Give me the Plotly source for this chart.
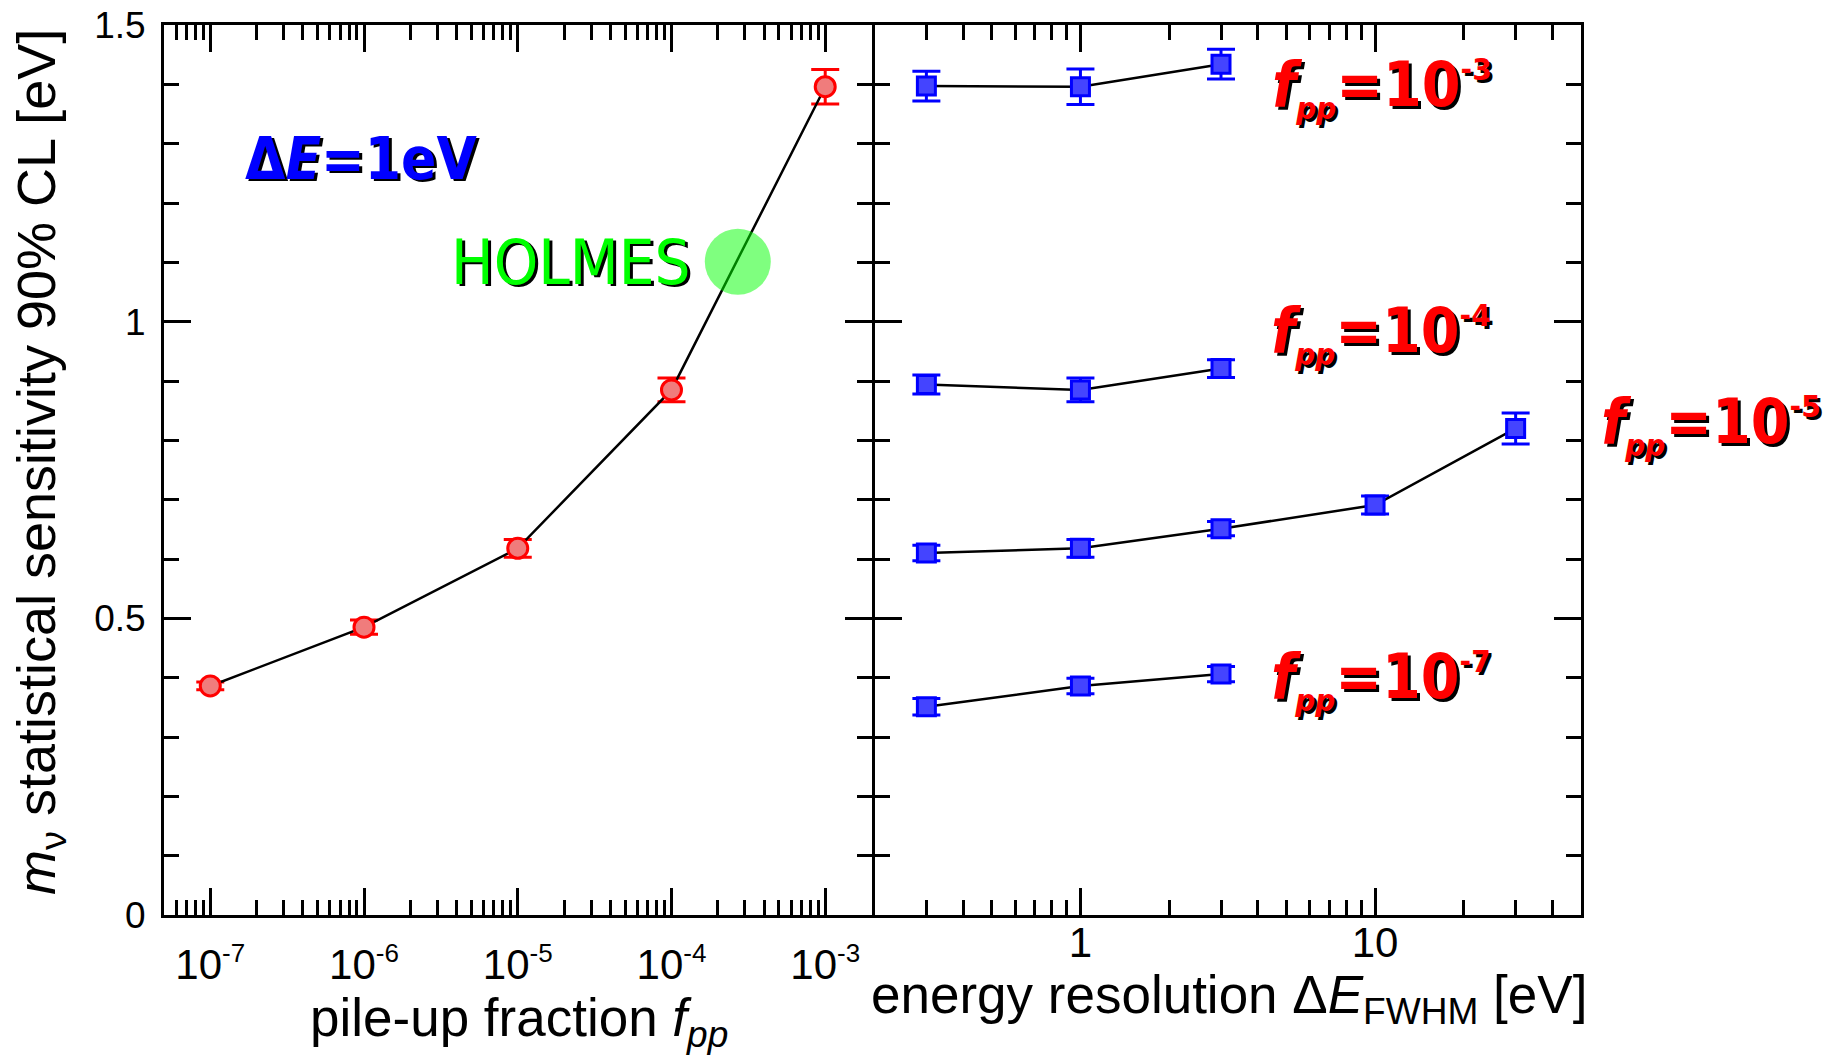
import numpy as np
import plotly.graph_objects as go

# ---- left panel: sensitivity vs pile-up fraction (Delta E = 1 eV) ----
fpp = [1e-7, 1e-6, 1e-5, 1e-4, 1e-3]
sens_fpp = [0.386, 0.485, 0.618, 0.885, 1.396]
err_fpp = [0.0065, 0.012, 0.015, 0.020, 0.029]

# HOLMES working point
holmes_fpp = [2.7e-4]
holmes_sens = [1.101]

# ---- right panel: sensitivity vs energy resolution ----
de_short = [0.3, 1, 3]
de_long = [0.3, 1, 3, 10, 30]
sens_1e3 = [1.397, 1.396, 1.434]
err_1e3 = [0.025, 0.030, 0.025]
sens_1e4 = [0.894, 0.885, 0.921]
err_1e4 = [0.016, 0.020, 0.015]
sens_1e5 = [0.610, 0.618, 0.651, 0.691, 0.820]
err_1e5 = [0.013, 0.015, 0.012, 0.015, 0.026]
sens_1e7 = [0.351, 0.386, 0.406]
err_1e7 = [0.014, 0.013, 0.013]

SUP = '<sup><span style="font-size:26px">%s</span></sup>'
left_ticks = [1e-7, 1e-6, 1e-5, 1e-4, 1e-3]
left_ticktext = ["10" + SUP % e for e in ["-7", "-6", "-5", "-4", "-3"]]
right_ticks = [1, 10]
right_ticktext = ["1", "10"]
y_ticks = [0, 0.5, 1, 1.5]
y_ticktext = ["0", "0.5", "1", "1.5"]

W, H = 1835, 1059
AXFONT = "Liberation Sans, Arial, Helvetica, sans-serif"
LBLFONT = "DejaVu Sans Condensed, DejaVu Sans, sans-serif"

RED = "#ff0000"
BLUE = "#0000ff"

fig = go.Figure()

fig.add_trace(go.Scatter(
    x=fpp, y=sens_fpp, mode="lines+markers", xaxis="x", yaxis="y",
    line=dict(color="black", width=2.5),
    marker=dict(symbol="circle", size=20, color="#f07c7c",
                line=dict(color=RED, width=3)),
    error_y=dict(type="data", array=err_fpp, color=RED, thickness=3, width=14),
    hoverinfo="skip"))

fig.add_trace(go.Scatter(
    x=holmes_fpp, y=holmes_sens, mode="markers", xaxis="x", yaxis="y",
    marker=dict(symbol="circle", size=66, color="rgba(0,255,0,0.5)",
                line=dict(width=0)),
    hoverinfo="skip"))

for xs, ys, es in [(de_short, sens_1e3, err_1e3), (de_short, sens_1e4, err_1e4),
                   (de_long, sens_1e5, err_1e5), (de_short, sens_1e7, err_1e7)]:
    fig.add_trace(go.Scatter(
        x=xs, y=ys, mode="lines+markers", xaxis="x2", yaxis="y2",
        line=dict(color="black", width=2.5),
        marker=dict(symbol="square", size=18, color="#4444ff",
                    line=dict(color=BLUE, width=3)),
        error_y=dict(type="data", array=es, color=BLUE, thickness=3, width=14),
        hoverinfo="skip"))


def minor_log(lo, hi):
    vals = []
    for d in range(int(np.floor(np.log10(lo))), int(np.ceil(np.log10(hi))) + 1):
        for k in range(2, 10):
            v = k * 10.0 ** d
            if lo * 1.0001 < v < hi * 0.9999:
                vals.append(v)
    return vals


# the shared middle frame: both panels draw their 3px line on the same pixels
x_left = (164 / W, 871.5 / W)
x_right = (874.5 / W, 1581 / W)
y_dom = (1 - 915 / H, 1 - 25 / H)

common_axis = dict(showline=True, linewidth=3, linecolor="black", mirror="ticks",
                   ticks="inside", ticklen=27, tickwidth=2.5, tickcolor="black",
                   showgrid=False, zeroline=False, automargin=False)
minor_style = dict(ticks="inside", ticklen=15, tickwidth=2.5, tickcolor="black")
y_minor = [0.1, 0.2, 0.3, 0.4, 0.6, 0.7, 0.8, 0.9, 1.1, 1.2, 1.3, 1.4]

fig.update_layout(
    width=W, height=H, margin=dict(l=0, r=0, t=0, b=0, pad=0, autoexpand=False),
    paper_bgcolor="white", plot_bgcolor="white", showlegend=False,
    xaxis=dict(common_axis, type="log", domain=x_left, anchor="y",
               range=[np.log10(5e-8), np.log10(2e-3)],
               tickvals=left_ticks, ticktext=left_ticktext,
               tickfont=dict(family=AXFONT, size=42, color="black"),
               ticklabelstandoff=11,
               minor=dict(minor_style, tickvals=minor_log(5e-8, 2e-3))),
    xaxis2=dict(common_axis, type="log", domain=x_right, anchor="y2",
                range=[np.log10(0.2), np.log10(50)],
                tickvals=right_ticks, ticktext=right_ticktext,
                tickfont=dict(family=AXFONT, size=42, color="black"),
                ticklabelstandoff=-11,
                minor=dict(minor_style, tickvals=minor_log(0.2, 50))),
    yaxis=dict(common_axis, domain=y_dom, anchor="x", range=[0, 1.5],
               tickvals=y_ticks, ticktext=y_ticktext,
               tickfont=dict(family=AXFONT, size=37, color="black"),
               ticklabelstandoff=8,
               minor=dict(minor_style, tickvals=y_minor)),
    yaxis2=dict(common_axis, domain=y_dom, anchor="x2", range=[0, 1.5],
                tickvals=y_ticks, showticklabels=False,
                minor=dict(minor_style, tickvals=y_minor)),
)

annotations = []


def label(text, left_px, mid_px, color, size, family, shadow=True, bold=False):
    if bold:
        text = "<b>" + text + "</b>"
    base = dict(text=text, xref="paper", yref="paper", x=left_px / W, y=1 - mid_px / H,
                xanchor="left", yanchor="middle", showarrow=False)
    if shadow:
        annotations.append(dict(base, font=dict(family=family, size=size, color="black"),
                                xshift=2.5, yshift=-2.5))
    annotations.append(dict(base, font=dict(family=family, size=size, color=color)))


FPP = ('<i>f</i><sub><span style="font-size:31px"><i>pp</i></span></sub>'
       '=10<sup><span style="font-size:31px">%s</span></sup>')
label(FPP % "-3", 1270, 87, RED, 62, LBLFONT, bold=True)
label(FPP % "-4", 1269, 333, RED, 62, LBLFONT, bold=True)
label(FPP % "-5", 1599, 424, RED, 62, LBLFONT, bold=True)
label(FPP % "-7", 1269, 679, RED, 62, LBLFONT, bold=True)
label("Δ<i>E</i>=1eV", 243, 159, BLUE, 58, LBLFONT, bold=True)
label("HOLMES", 449, 262, "#00ff00", 63, LBLFONT)

# axis titles
annotations.append(dict(text="pile-up fraction <i>f</i><sub><i>pp</i></sub>",
                        xref="paper", yref="paper", x=519 / W, y=1 - 1021 / H,
                        xanchor="center", yanchor="middle", showarrow=False,
                        font=dict(family=AXFONT, size=53, color="black")))
annotations.append(dict(text="energy resolution Δ<i>E</i><sub>FWHM</sub> [eV]",
                        xref="paper", yref="paper", x=1229 / W, y=1 - 998 / H,
                        xanchor="center", yanchor="middle", showarrow=False,
                        font=dict(family=AXFONT, size=53, color="black")))
annotations.append(dict(text="<i>m</i><sub>ν</sub> statistical sensitivity 90% CL [eV]",
                        xref="paper", yref="paper", x=40 / W, y=1 - 462 / H,
                        xanchor="center", yanchor="middle", showarrow=False,
                        textangle=-90,
                        font=dict(family=AXFONT, size=54, color="black")))

fig.update_layout(annotations=annotations)
fig.write_html("out.html")
